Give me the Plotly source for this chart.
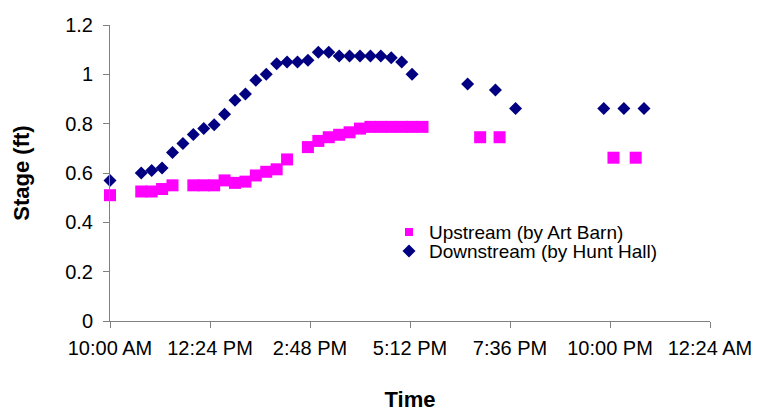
import plotly.graph_objects as go

DAY = "2024-05-01"

# Upstream gauge (by Art Barn): time of reading and stage in feet
up_times = ["10:00", "10:45", "11:00", "11:15", "11:30", "12:00", "12:15", "12:30",
            "12:45", "13:00", "13:15", "13:30", "13:45", "14:00", "14:15", "14:45",
            "15:00", "15:15", "15:30", "15:45", "16:00", "16:15", "16:30", "16:45",
            "17:00", "17:15", "17:30", "18:53", "19:21", "22:05", "22:37"]
up_stage = [0.51, 0.525, 0.525, 0.535, 0.55, 0.55, 0.55, 0.55,
            0.57, 0.56, 0.565, 0.59, 0.605, 0.615, 0.655, 0.705,
            0.73, 0.745, 0.755, 0.765, 0.78, 0.787, 0.787, 0.787,
            0.787, 0.787, 0.787, 0.745, 0.745, 0.662, 0.662]

# Downstream gauge (by Hunt Hall)
down_times = ["10:00", "10:45", "11:00", "11:15", "11:30", "11:45", "12:00", "12:15",
              "12:30", "12:45", "13:00", "13:15", "13:30", "13:45", "14:00", "14:15",
              "14:30", "14:45", "15:00", "15:15", "15:30", "15:45", "16:00", "16:15",
              "16:30", "16:45", "17:00", "17:15", "18:35", "19:15", "19:44", "21:51",
              "22:20", "22:49"]
down_stage = [0.57, 0.60, 0.61, 0.62, 0.683, 0.72, 0.756, 0.78,
              0.796, 0.838, 0.895, 0.92, 0.976, 1.0, 1.043, 1.05,
              1.05, 1.057, 1.09, 1.09, 1.074, 1.074, 1.074, 1.074,
              1.074, 1.067, 1.05, 1.0, 0.961, 0.936, 0.861, 0.861,
              0.861, 0.861]

y_ticks = [0, 0.2, 0.4, 0.6, 0.8, 1, 1.2]
y_tick_text = ["0", "0.2", "0.4", "0.6", "0.8", "1", "1.2"]

UP_NAME = "Upstream (by Art Barn)"
DOWN_NAME = "Downstream (by Hunt Hall)"
UP_COLOR = "#FF00FF"
DOWN_COLOR = "#000080"
FONT = "Liberation Sans, Arial, sans-serif"


def stamp(t):
    return f"{DAY} {t}"


fig = go.Figure()
fig.add_trace(go.Scatter(
    x=[stamp(t) for t in up_times], y=up_stage, mode="markers",
    name=UP_NAME, showlegend=False, cliponaxis=False,
    marker=dict(symbol="square", size=12, color=UP_COLOR),
))
fig.add_trace(go.Scatter(
    x=[stamp(t) for t in down_times], y=down_stage, mode="markers",
    name=DOWN_NAME, showlegend=False, cliponaxis=False,
    marker=dict(symbol="diamond", size=10, color=DOWN_COLOR),
))

# legend keys, one small legend box per series so the rows sit close together
fig.add_trace(go.Scatter(
    x=[None], y=[None], mode="markers", name=UP_NAME, legend="legend",
    marker=dict(symbol="square", size=8, color=UP_COLOR),
))
fig.add_trace(go.Scatter(
    x=[None], y=[None], mode="markers", name=DOWN_NAME, legend="legend2",
    marker=dict(symbol="diamond", size=10, color=DOWN_COLOR),
))

tick_font = dict(family=FONT, size=20, color="#000000")
legend_font = dict(family=FONT, size=19, color="#000000")
title_font = dict(family=FONT, size=22, color="#000000")

legend_common = dict(
    x=0.465, xanchor="left", yanchor="middle",
    bgcolor="rgba(0,0,0,0)", font=legend_font,
    itemwidth=30, borderwidth=0,
)

fig.update_layout(
    width=758, height=413,
    margin=dict(l=110, r=48, t=25, b=92),
    paper_bgcolor="white", plot_bgcolor="white",
    font=dict(family=FONT, color="#000000"),
    showlegend=True,
    legend=dict(y=0.30, **legend_common),
    legend2=dict(y=0.236, **legend_common),
    xaxis=dict(
        type="date", automargin=False,
        range=[stamp("10:00"), "2024-05-02 00:24"],
        tick0=stamp("10:00"), dtick=2.4 * 3600 * 1000,
        tickformat="%-I:%M %p",
        showgrid=False, zeroline=False,
        showline=True, linecolor="#808080", linewidth=1,
        ticks="outside", ticklen=6, tickcolor="#808080",
        ticklabelstandoff=3,
        tickfont=tick_font,
        title=dict(text="<b>Time</b>", font=title_font, standoff=33),
    ),
    yaxis=dict(
        range=[0, 1.2], automargin=False,
        tickvals=y_ticks, ticktext=y_tick_text,
        showgrid=False, zeroline=False,
        showline=True, linecolor="#808080", linewidth=1,
        ticks="outside", ticklen=6, tickcolor="#808080",
        ticklabelstandoff=6,
        tickfont=tick_font,
        title=dict(text="<b>Stage (ft)</b>", font=title_font, standoff=29),
    ),
)

fig.write_html("out.html")
